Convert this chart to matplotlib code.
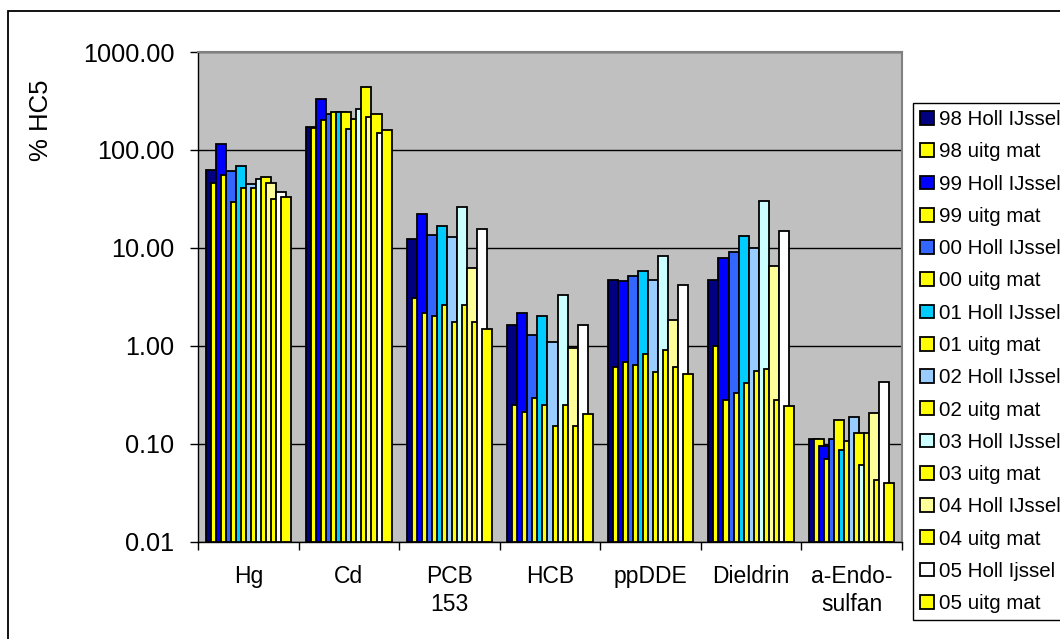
import numpy as np
import matplotlib
matplotlib.use("Agg")
import matplotlib.pyplot as plt
from matplotlib.patches import Rectangle, Patch
from matplotlib.ticker import FixedLocator, FuncFormatter

plt.rcParams['font.family'] = ['Liberation Sans', 'DejaVu Sans']

stoffen = ["Hg", "Cd", "PCB\n153", "HCB", "ppDDE", "Dieldrin", "a-Endo-\nsulfan"]

# % HC5 per stof: Holl IJssel en uitgegraven materiaal, 1998-2005
holl_98 = [62, 172, 12.4, 1.65, 4.68, 4.68, 0.112]
uitg_98 = [46, 168, 3.09, 0.246, 0.605, 0.99, 0.112]
holl_99 = [116, 334, 22.2, 2.14, 4.57, 7.8, 0.0946]
uitg_99 = [56, 204, 2.14, 0.21, 0.68, 0.283, 0.0703]
holl_00 = [60.5, 234, 13.4, 1.30, 5.13, 9.1, 0.112]
uitg_00 = [29.7, 242, 2.0, 0.294, 0.63, 0.326, 0.173]
holl_01 = [68, 242, 16.6, 2.0, 5.77, 13.1, 0.086]
uitg_01 = [41, 242, 2.6, 0.246, 0.83, 0.419, 0.106]
holl_02 = [45, 164, 12.8, 1.09, 4.75, 10.0, 0.188]
uitg_02 = [41, 208, 1.74, 0.151, 0.54, 0.55, 0.129]
holl_03 = [50, 262, 25.9, 3.33, 8.35, 29.9, 0.0605]
uitg_03 = [53, 435, 2.6, 0.246, 0.896, 0.58, 0.129]
holl_04 = [46, 215, 6.25, 0.955, 1.85, 6.5, 0.207]
uitg_04 = [31.6, 234, 1.74, 0.151, 0.605, 0.283, 0.0425]
holl_05 = [37, 149, 15.6, 1.65, 4.16, 14.8, 0.426]
uitg_05 = [33, 158, 1.49, 0.2, 0.52, 0.242, 0.0393]

series = [
    ("98 Holl IJssel", holl_98, "#000080"),
    ("98 uitg mat", uitg_98, "#FFFF00"),
    ("99 Holl IJssel", holl_99, "#0000FF"),
    ("99 uitg mat", uitg_99, "#FFFF00"),
    ("00 Holl IJssel", holl_00, "#3366FF"),
    ("00 uitg mat", uitg_00, "#FFFF00"),
    ("01 Holl IJssel", holl_01, "#00CCFF"),
    ("01 uitg mat", uitg_01, "#FFFF00"),
    ("02 Holl IJssel", holl_02, "#99CCFF"),
    ("02 uitg mat", uitg_02, "#FFFF00"),
    ("03 Holl IJssel", holl_03, "#CCFFFF"),
    ("03 uitg mat", uitg_03, "#FFFF00"),
    ("04 Holl IJssel", holl_04, "#FFFF99"),
    ("04 uitg mat", uitg_04, "#FFFF00"),
    ("05 Holl Ijssel", holl_05, "#FFFFFF"),
    ("05 uitg mat", uitg_05, "#FFFF00"),
]

fig = plt.figure(figsize=(10.6, 6.39), dpi=100)
ax = fig.add_axes([198 / 1060, 1 - 541.7 / 639, 704 / 1060, (541.7 - 52) / 639])
ax.set_facecolor("#C0C0C0")

x = np.arange(len(stoffen))
breedte = 0.1
stap = 0.05
start = x - (breedte + stap * (len(series) - 1)) / 2
bodem = 0.01

handles = []
for j, (naam, waarden, kleur) in enumerate(series):
    h = np.array(waarden) - bodem
    ax.bar(start + j * stap, h, width=breedte, bottom=bodem, align="edge",
           color=kleur, edgecolor="black", linewidth=1.3, zorder=3)
    handles.append(Patch(facecolor=kleur, edgecolor="black", linewidth=1.3, label=naam))

ax.set_yscale("log")
ax.set_ylim(0.01, 1000)
ax.set_xlim(-0.5, len(stoffen) - 0.5)
ax.yaxis.set_major_locator(FixedLocator([0.01, 0.1, 1, 10, 100, 1000]))
ax.yaxis.set_minor_locator(FixedLocator([]))
ax.yaxis.set_major_formatter(FuncFormatter(lambda v, p: "%.2f" % v))
ax.grid(axis="y", which="major", color="black", linewidth=1.0, zorder=1)
ax.set_axisbelow(True)

ax.set_xticks(x)
ax.set_xticklabels(stoffen, fontsize=16.5, linespacing=1.3)
ax.xaxis.set_minor_locator(FixedLocator(np.arange(-0.5, len(stoffen), 1.0)))
ax.tick_params(axis="x", which="major", length=0, pad=16.5)
ax.tick_params(axis="x", which="minor", length=6, width=1, direction="out", color="black")
ax.tick_params(axis="y", which="major", length=6, width=1, direction="out",
               labelsize=18.2, pad=11, color="black")

for s in ("top", "right"):
    ax.spines[s].set_color("#808080")
    ax.spines[s].set_linewidth(1.5)
for s in ("left", "bottom"):
    ax.spines[s].set_color("black")
    ax.spines[s].set_linewidth(1.0)

fig.text(41 / 1060, 1 - 120 / 639, "% HC5", rotation=90, fontsize=18.5,
         ha="center", va="center")

leg = fig.legend(handles=handles, loc="upper left",
                 bbox_to_anchor=(913 / 1060, 1 - 103 / 639), fontsize=14.8,
                 handlelength=0.65, handleheight=0.65, handletextpad=0.25,
                 labelspacing=0.645, borderpad=0.35, borderaxespad=0,
                 fancybox=False, framealpha=1, edgecolor="black")
leg.get_frame().set_linewidth(1.0)

# omlijsting van de hele grafiek
fig.patches.append(Rectangle((8 / 1060, -0.1), 1.2, 1 - 10.5 / 639 + 0.1,
                             transform=fig.transFigure, fill=False,
                             edgecolor="black", linewidth=1.3))

fig.savefig("out.png", dpi=100)
